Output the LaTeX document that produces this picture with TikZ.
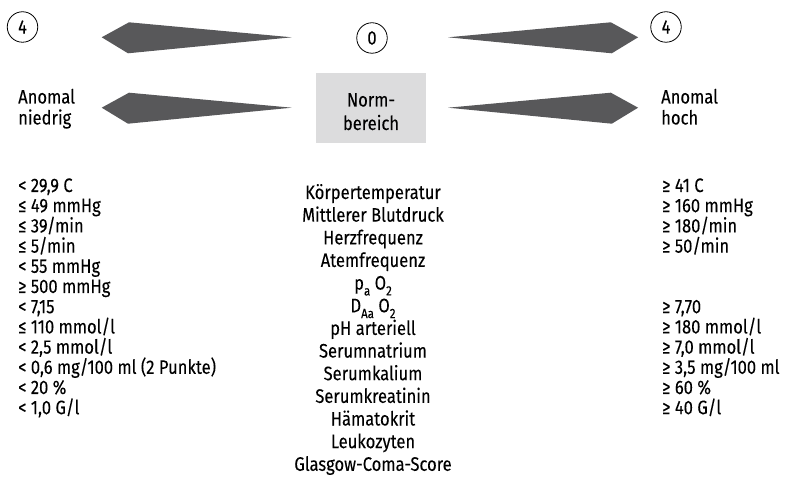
\documentclass[tikz,border=0pt]{standalone}
\usepackage{fontspec}
\setmainfont{Fira Sans}[FakeStretch=0.85, FakeBold=0.12]
\newcommand\fs{\fontsize{19.5}{21}\selectfont}
\newcommand\lowtext[1]{\raisebox{-0.3em}{\fontsize{13.5}{13.5}\selectfont #1}}
\definecolor{arrowgray}{HTML}{58585A}
\definecolor{boxgray}{HTML}{DCDCDD}
\tikzset{
  lbl/.style={inner sep=0pt, font=\fs},
  numcirc/.style={circle, draw=black, line width=0.8pt, minimum size=30.5pt, inner sep=0pt, font=\fs},
  wedge/.style={fill=arrowgray, draw=none},
}
\begin{document}
\begin{tikzpicture}[x=1pt, y=-1pt]
  \useasboundingbox (0,0) rectangle (785,478);

  % score circles
  \node[numcirc] (scoreL) at (22.5,27) {4};
  \node[numcirc] (scoreM) at (372,38) {0};
  \node[numcirc] (scoreR) at (666,27) {4};

  % normal range box
  \node[fill=boxgray, minimum width=110pt, minimum height=70pt, inner sep=0pt] (norm) at (371,108) {};
  \node[lbl, anchor=base] (norm1) at (371,106.5) {Norm-};
  \node[lbl, anchor=base] (norm2) at (371,130) {bereich};

  % side labels
  \node[lbl, anchor=base west] (low1) at (18,103.5) {Anomal};
  \node[lbl, anchor=base west] (low2) at (18,124.5) {niedrig};
  \node[lbl, anchor=base west] (high1) at (661,103.5) {Anomal};
  \node[lbl, anchor=base west] (high2) at (661,124.5) {hoch};

  % wedges pointing outwards (left side, then mirrored right side)
  \foreach \yy in {37.3,107.7} {
    \fill[wedge] (101.7,\yy) -- (129,\yy-15) -- (291.7,\yy) -- (128,\yy+16) -- cycle;
    \fill[wedge] (638.1,\yy) -- (610.8,\yy-15) -- (448.1,\yy) -- (611.8,\yy+16) -- cycle;
  }

  % parameters
  \foreach \t [count=\k from 0] in {K\"orpertemperatur, Mittlerer Blutdruck, Herzfrequenz,
      Atemfrequenz, {p\lowtext{a} O\lowtext{2}}, {D\lowtext{Aa} O\lowtext{2}}, pH arteriell,
      Serumnatrium, Serumkalium, Serumkreatinin, H\"amatokrit, Leukozyten, Glasgow-Coma-Score}
    \node[lbl, anchor=base] (par\k) at (373,{199+22.65*\k}) {\t};

  % low thresholds
  \foreach \t [count=\k from 0] in {{< 29,9 C}, {≤ 49 mmHg}, {≤ 39/min}, {≤ 5/min},
      {< 55 mmHg}, {≥ 500 mmHg}, {< 7,15}, {≤ 110 mmol/l}, {< 2,5 mmol/l},
      {< 0,6 mg/100 ml (2 Punkte)}, {< 20 \%}, {< 1,0 G/l}}
    \node[lbl, anchor=base west] (lo\k) at (18,{192+20.2*\k}) {\t};

  % high thresholds
  \foreach \r/\t in {0/{≥ 41 C}, 1/{≥ 160 mmHg}, 2/{≥ 180/min}, 3/{≥ 50/min},
      6/{≥ 7,70}, 7/{≥ 180 mmol/l}, 8/{≥ 7,0 mmol/l}, 9/{≥ 3,5 mg/100 ml},
      10/{≥ 60 \%}, 11/{≥ 40 G/l}}
    \node[lbl, anchor=base west] (hi\r) at (662,{192+20.2*\r}) {\t};
\end{tikzpicture}
\end{document}
